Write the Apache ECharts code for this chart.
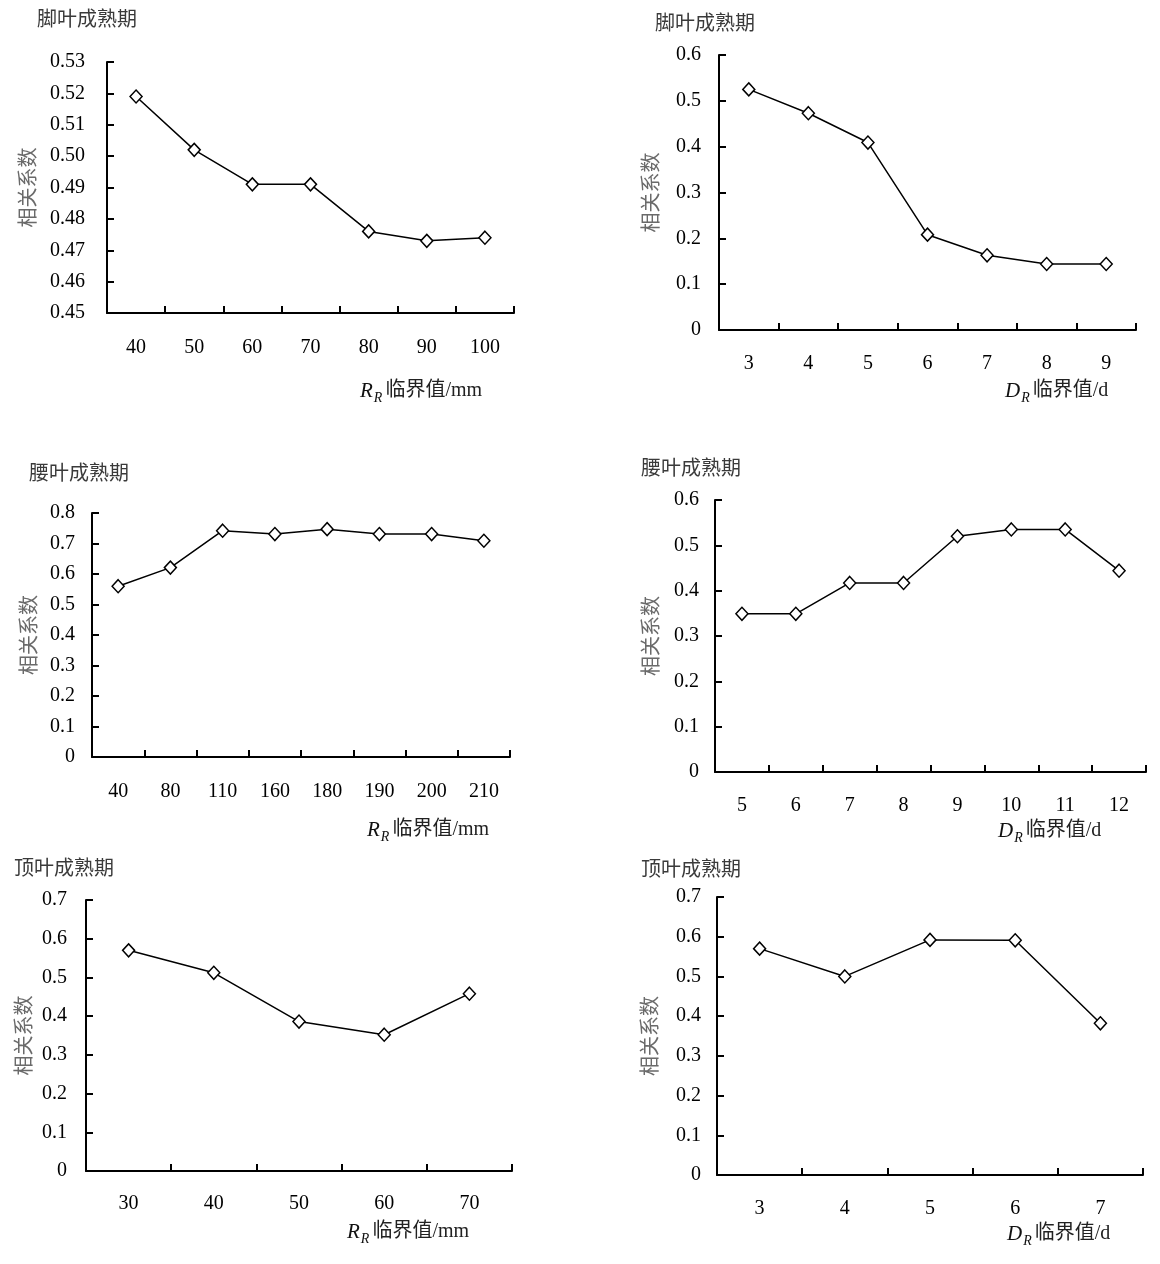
<!DOCTYPE html>
<html>
<head>
<meta charset="utf-8">
<title>相关系数</title>
<script src="https://cdn.jsdelivr.net/npm/echarts@6/dist/echarts.min.js"></script>
<style>
    html, body { margin: 0; padding: 0; background: #fff; }
    #chart { width: 1160px; height: 1264px; }
</style>
</head>
<body>
<div id="chart"></div>
<script>
// 脚叶成熟期
const rootRCats = ['40', '50', '60', '70', '80', '90', '100'];
const rootRVals = [0.519, 0.502, 0.491, 0.491, 0.476, 0.473, 0.474];
const rootDCats = ['3', '4', '5', '6', '7', '8', '9'];
const rootDVals = [0.525, 0.473, 0.409, 0.208, 0.163, 0.144, 0.144];
// 腰叶成熟期
const midRCats = ['40', '80', '110', '160', '180', '190', '200', '210'];
const midRVals = [0.560, 0.621, 0.742, 0.731, 0.747, 0.731, 0.731, 0.709];
const midDCats = ['5', '6', '7', '8', '9', '10', '11', '12'];
const midDVals = [0.349, 0.349, 0.417, 0.417, 0.520, 0.535, 0.535, 0.444];
// 顶叶成熟期
const topRCats = ['30', '40', '50', '60', '70'];
const topRVals = [0.570, 0.512, 0.386, 0.352, 0.458];
const topDCats = ['3', '4', '5', '6', '7'];
const topDVals = [0.570, 0.500, 0.592, 0.591, 0.382];

const FONT = '"Liberation Serif", "Noto Sans CJK SC", serif';

// one entry per small chart: grid box, axis range, label spacing
const panels = [
    { title: '脚叶成熟期', tx: 37, ty: 23, cats: rootRCats, vals: rootRVals, unit: 'R',
      box: [107, 62, 407, 251], min: 0.45, max: 0.53, step: 0.01, digits: 2,
      yGap: 67, yMargin: 22, xMargin: 25, nx: 360, ny: 391 },
    { title: '脚叶成熟期', tx: 655, ty: 27, cats: rootDCats, vals: rootDVals, unit: 'D',
      box: [719, 55, 417, 275], min: 0, max: 0.6, step: 0.1, digits: 1,
      yGap: 56, yMargin: 18, xMargin: 24, nx: 1005, ny: 391 },
    { title: '腰叶成熟期', tx: 29, ty: 477, cats: midRCats, vals: midRVals, unit: 'R',
      box: [92, 513, 418, 244], min: 0, max: 0.8, step: 0.1, digits: 1,
      yGap: 51, yMargin: 17, xMargin: 25, nx: 367, ny: 830 },
    { title: '腰叶成熟期', tx: 641, ty: 472, cats: midDCats, vals: midDVals, unit: 'D',
      box: [715, 500, 431, 272], min: 0, max: 0.6, step: 0.1, digits: 1,
      yGap: 52, yMargin: 16, xMargin: 24, nx: 998, ny: 831 },
    { title: '顶叶成熟期', tx: 14, ty: 872, cats: topRCats, vals: topRVals, unit: 'R',
      box: [86, 900, 426, 271], min: 0, max: 0.7, step: 0.1, digits: 1,
      yGap: 50, yMargin: 19, xMargin: 23, nx: 347, ny: 1232 },
    { title: '顶叶成熟期', tx: 641, ty: 873, cats: topDCats, vals: topDVals, unit: 'D',
      box: [717, 897, 426, 278], min: 0, max: 0.7, step: 0.1, digits: 1,
      yGap: 55, yMargin: 16, xMargin: 24, nx: 1007, ny: 1234 }
];

const lineStyle = { color: '#000', width: 2 };
const axisTick = { show: true, inside: true, length: 7, lineStyle: { color: '#000', width: 2 } };

const nameRich = {
    i: { fontFamily: FONT, fontStyle: 'italic', fontWeight: 'normal', fontSize: 21, color: '#111' },
    s: { fontFamily: FONT, fontStyle: 'italic', fontWeight: 'normal', fontSize: 14, color: '#111', padding: [14, 3, 0, 1] },
    c: { fontFamily: FONT, fontWeight: 'normal', fontSize: 20, color: '#222' }
};

const chart = echarts.init(document.getElementById('chart'));

const titles = [];
const grids = [];
const xAxes = [];
const yAxes = [];
const series = [];

panels.forEach((p, idx) => {
    titles.push({
        text: p.title, left: p.tx, top: p.ty - 12, padding: 0,
        textStyle: { fontFamily: FONT, fontSize: 20, fontWeight: 'normal', color: '#3a3a3a' }
    });
    const tail = p.unit === 'R' ? '临界值/mm' : '临界值/d';
    titles.push({
        text: `{i|${p.unit}}{s|R}{c|${tail}}`, left: p.nx, top: p.ny - 14, padding: 0,
        textStyle: { fontWeight: 'normal', rich: nameRich }
    });
    grids.push({ left: p.box[0], top: p.box[1], width: p.box[2], height: p.box[3] });
    xAxes.push({
        type: 'category', gridIndex: idx, data: p.cats, boundaryGap: true,
        axisLine: { show: true, lineStyle }, axisTick: { ...axisTick, alignWithLabel: false },
        axisLabel: { color: '#000', fontFamily: FONT, fontSize: 20, margin: p.xMargin },
        splitLine: { show: false }
    });
    yAxes.push({
        type: 'value', gridIndex: idx, min: p.min, max: p.max, interval: p.step,
        name: '相关系数', nameLocation: 'middle', nameRotate: 90, nameGap: p.yGap,
        nameTextStyle: { fontFamily: FONT, fontSize: 20, color: '#6a6a6a' },
        axisLine: { show: true, lineStyle }, axisTick: { ...axisTick },
        axisLabel: {
            color: '#000', fontFamily: FONT, fontSize: 20, margin: p.yMargin,
            formatter: (v) => (p.digits === 2 ? v.toFixed(2) : String(Number(v.toFixed(1))))
        },
        splitLine: { show: false }
    });
    series.push({
        type: 'line', xAxisIndex: idx, yAxisIndex: idx, data: p.vals,
        symbol: 'diamond', symbolSize: [12, 13], showAllSymbol: true,
        lineStyle: { color: '#000', width: 1.5 },
        itemStyle: { color: '#fff', borderColor: '#000', borderWidth: 1.5 },
        emphasis: { disabled: true },
        animation: false
    });
});

chart.setOption({
    backgroundColor: '#fff',
    animation: false,
    title: titles,
    grid: grids,
    xAxis: xAxes,
    yAxis: yAxes,
    series: series
});

window.addEventListener('resize', () => {
    chart.resize();
});
</script>
</body>
</html>
